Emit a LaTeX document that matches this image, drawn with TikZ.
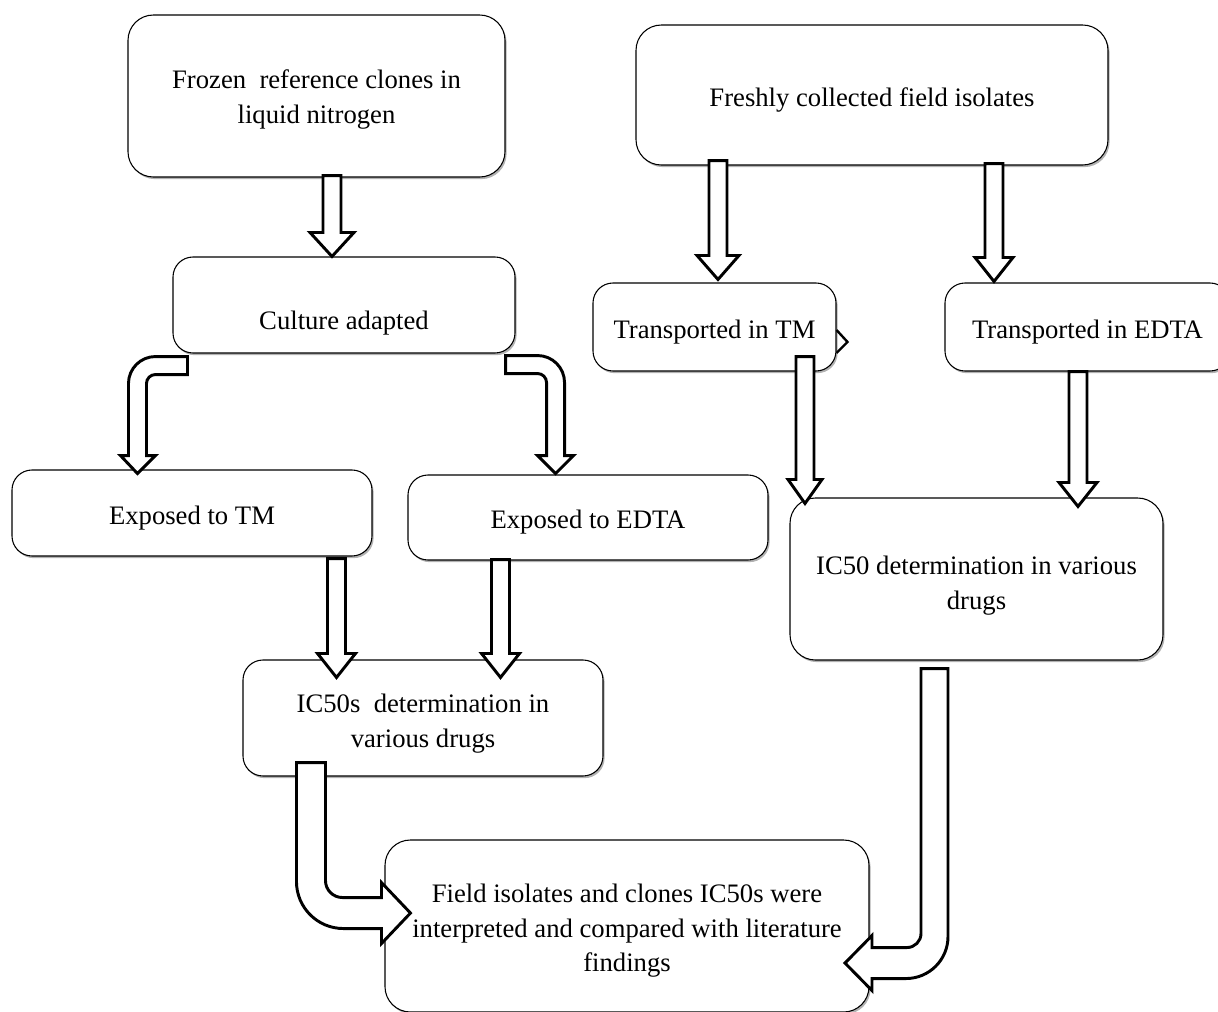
\documentclass[tikz,border=0pt]{standalone}
\usepackage{fontspec}
\setmainfont{Liberation Serif}
\usetikzlibrary{calc,shadows}
\newcommand\vblk[4]{% #1 start point, #2 target anchor, #3 tip shift (px, + down), #4 head half width
  \coordinate (vs) at (#1);
  \coordinate (vt) at ($(vs |- #2)+(0,#3)$);
  \draw[blk] ($(vs)+(-9,0)$) -- ($(vt)+(-9,-24)$) -- ($(vt)+(-#4,-24)$) -- (vt)
    -- ($(vt)+(#4,-24)$) -- ($(vt)+(9,-24)$) -- ($(vs)+(9,0)$) -- cycle;}
\begin{document}
\begin{tikzpicture}[x=0.75pt,y=-0.75pt,
  box/.style args={#1/#2}{draw=black, line width=0.8pt, rounded corners=15pt, fill=white,
    minimum width=#1*0.75pt, minimum height=#2*0.75pt, align=center, inner sep=0pt,
    font=\fontsize{20}{26}\selectfont, text height=21pt,
    drop shadow={shadow xshift=1.2pt, shadow yshift=-1.6pt, opacity=0.3, fill=black}},
  bigr/.style={rounded corners=19pt},
  blk/.style={draw=black, line width=2.2pt, fill=white, line join=miter, miter limit=10},
  chev/.style={draw=black, line width=1.8pt, line join=miter}]
\useasboundingbox (0,0) rectangle (1218,1011);
\clip (0,0) rectangle (1218,1011);
\fill[white] (0,0) rectangle (1218,1011);

% boxes
\node[box=377/162, bigr, text height=45pt] (frozen) at (316.5,96) {Frozen\hspace{0.25em} reference clones in\\liquid nitrogen};
\node[box=472/140, bigr] (fresh) at (872,95) {Freshly collected field isolates};
\node[box=342/96, text height=40.5pt, text depth=4.3pt] (culture) at (344,305) {Culture adapted};
\node[box=243/88] (ttm) at (714.5,327) {Transported in TM};
\node[box=285/88] (tedta) at (1087.5,327) {Transported in EDTA};
\node[box=360/86] (etm) at (192,513) {Exposed to TM};
\node[box=360/85] (eedta) at (588,517.5) {Exposed to EDTA};
\node[box=373/162, bigr, text height=49.5pt] (icr) at (976.5,579) {IC50 determination in various\\drugs};
\node[box=360/116, text height=48pt] (icl) at (423,718) {IC50s\hspace{0.25em} determination in\\various drugs};
\node[box=484/172, bigr, text height=73pt] (field) at (627,926) {Field isolates and clones IC50s were\\interpreted and compared with literature\\findings};

% straight block arrows
\vblk{$(frozen.south)+(15.5,-2)$}{culture.north}{0}{22}
\vblk{$(fresh.south)+(-154,-5)$}{ttm.north}{-3}{21}
\vblk{$(fresh.south)+(122,-2)$}{tedta.north}{-1}{19}
\vblk{$(etm.south)+(144.5,2)$}{icl.north}{18}{19}
\vblk{$(eedta.south)+(-87.5,-1)$}{icl.north}{18}{19}
\vblk{$(ttm.south)+(90.5,-15)$}{icr.north}{6}{17}
\vblk{$(tedta.south)+(-9.5,0)$}{icr.north}{9}{19}

% bent arrows from culture
\begin{scope}[shift={($(culture.south west)-(173,353)$)}]
\draw[blk] (188,356) -- (156,356) .. controls (141.1,356) and (129,368.1) .. (129,383)
  -- (129,455) -- (121,455) -- (138,473) -- (156,455) -- (147,455) -- (147,383)
  .. controls (147,378) and (151,374) .. (156,374) -- (188,374) -- cycle;
\end{scope}
\begin{scope}[shift={($(culture.south east)-(515,353)$)}]
\draw[blk] (505,355) -- (537,355) .. controls (551.9,355) and (564,367.1) .. (564,382)
  -- (564,455) -- (573,455) -- (555,473) -- (537,455) -- (546,455) -- (546,382)
  .. controls (546,377) and (542,373) .. (537,373) -- (505,373) -- cycle;
\end{scope}

% bent arrow IC50s -> field
\begin{scope}[shift={($(icl.south west)-(243,776)$)}]
\draw[blk] (297,762) -- (326,762) -- (326,880) .. controls (326,889.4) and (333.6,897) .. (343,897)
  -- (382,897) -- (382,882) -- (411,912.5) -- (382,943) -- (382,928) -- (344,928)
  .. controls (318,928) and (297,907) .. (297,881) -- cycle;
\end{scope}

% bent arrow IC50 -> field
\begin{scope}[shift={($(icr.south)-(976.5,660)$)}]
\draw[blk] (921,668) -- (948,668) -- (948,936) .. controls (948,959.2) and (929.2,978) .. (906,978)
  -- (872,978) -- (872,990) -- (845,962.5) -- (872,935) -- (872,947) -- (907,947)
  .. controls (914.7,947) and (921,940.7) .. (921,933) -- cycle;
\end{scope}

% small chevron right of "Transported in TM"
\begin{scope}[shift={($(ttm.east)-(836,327)$)}]
\coordinate (chv) at (847,342);
\draw[chev] (836,330) -- (chv) -- (836,353);
\end{scope}
\end{tikzpicture}
\end{document}
